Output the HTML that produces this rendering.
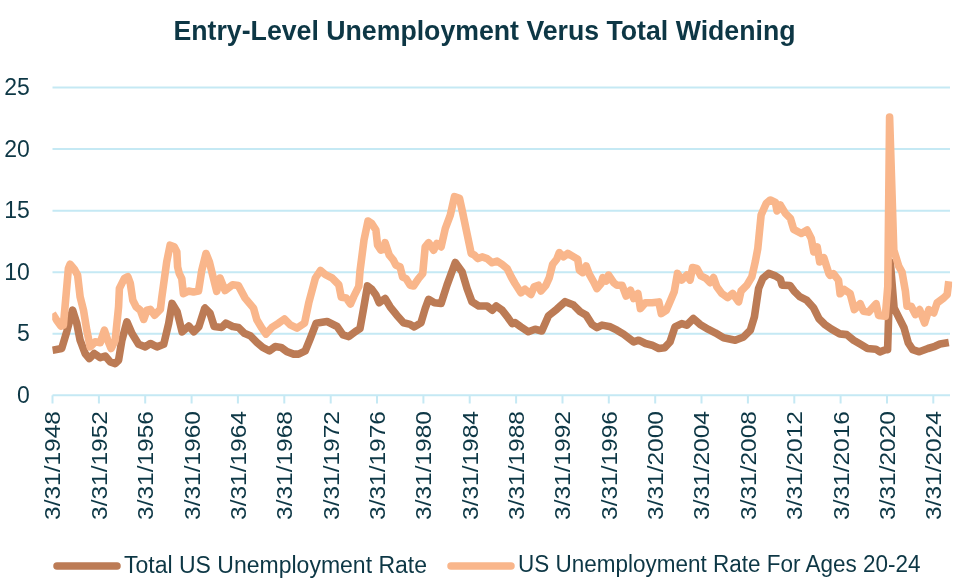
<!DOCTYPE html>
<html><head><meta charset="utf-8"><style>
html,body{margin:0;padding:0;background:#fff;width:960px;height:586px;overflow:hidden}
svg{display:block;filter:blur(0.4px)}
text{font-family:"Liberation Sans",sans-serif;fill:#0D3745}
</style></head><body>
<svg width="960" height="586" viewBox="0 0 960 586">
<defs><clipPath id="pc"><rect x="52.2" y="0" width="900" height="420"/></clipPath></defs><rect width="960" height="586" fill="#fff"/>
<text x="484.5" y="39.8" text-anchor="middle" font-weight="bold" font-size="28" textLength="622" lengthAdjust="spacingAndGlyphs">Entry-Level Unemployment Verus Total Widening</text>
<g stroke="#C5E9F4" stroke-width="2" fill="none"><line x1="52.5" y1="333.8" x2="950" y2="333.8" /><line x1="52.5" y1="272.2" x2="950" y2="272.2" /><line x1="52.5" y1="210.7" x2="950" y2="210.7" /><line x1="52.5" y1="149.1" x2="950" y2="149.1" /><line x1="52.5" y1="87.6" x2="950" y2="87.6" /><line x1="52.5" y1="395.3" x2="52.5" y2="403.5" /><line x1="98.9" y1="395.3" x2="98.9" y2="403.5" /><line x1="145.2" y1="395.3" x2="145.2" y2="403.5" /><line x1="191.6" y1="395.3" x2="191.6" y2="403.5" /><line x1="237.9" y1="395.3" x2="237.9" y2="403.5" /><line x1="284.3" y1="395.3" x2="284.3" y2="403.5" /><line x1="330.7" y1="395.3" x2="330.7" y2="403.5" /><line x1="377.0" y1="395.3" x2="377.0" y2="403.5" /><line x1="423.4" y1="395.3" x2="423.4" y2="403.5" /><line x1="469.7" y1="395.3" x2="469.7" y2="403.5" /><line x1="516.1" y1="395.3" x2="516.1" y2="403.5" /><line x1="562.5" y1="395.3" x2="562.5" y2="403.5" /><line x1="608.8" y1="395.3" x2="608.8" y2="403.5" /><line x1="655.2" y1="395.3" x2="655.2" y2="403.5" /><line x1="701.5" y1="395.3" x2="701.5" y2="403.5" /><line x1="747.9" y1="395.3" x2="747.9" y2="403.5" /><line x1="794.3" y1="395.3" x2="794.3" y2="403.5" /><line x1="840.6" y1="395.3" x2="840.6" y2="403.5" /><line x1="887.0" y1="395.3" x2="887.0" y2="403.5" /><line x1="933.3" y1="395.3" x2="933.3" y2="403.5" /><line x1="52.5" y1="395.3" x2="950" y2="395.3"/></g>
<g font-size="23"><text x="29.8" y="402.9" text-anchor="end">0</text><text x="29.8" y="341.4" text-anchor="end">5</text><text x="29.8" y="279.8" text-anchor="end">10</text><text x="29.8" y="218.2" text-anchor="end">15</text><text x="29.8" y="156.7" text-anchor="end">20</text><text x="29.8" y="95.2" text-anchor="end">25</text></g>
<g font-size="22"><text transform="translate(60.4,520) rotate(-90)" textLength="109" lengthAdjust="spacingAndGlyphs">3/31/1948</text><text transform="translate(106.8,520) rotate(-90)" textLength="109" lengthAdjust="spacingAndGlyphs">3/31/1952</text><text transform="translate(153.1,520) rotate(-90)" textLength="109" lengthAdjust="spacingAndGlyphs">3/31/1956</text><text transform="translate(199.5,520) rotate(-90)" textLength="109" lengthAdjust="spacingAndGlyphs">3/31/1960</text><text transform="translate(245.8,520) rotate(-90)" textLength="109" lengthAdjust="spacingAndGlyphs">3/31/1964</text><text transform="translate(292.2,520) rotate(-90)" textLength="109" lengthAdjust="spacingAndGlyphs">3/31/1968</text><text transform="translate(338.6,520) rotate(-90)" textLength="109" lengthAdjust="spacingAndGlyphs">3/31/1972</text><text transform="translate(384.9,520) rotate(-90)" textLength="109" lengthAdjust="spacingAndGlyphs">3/31/1976</text><text transform="translate(431.3,520) rotate(-90)" textLength="109" lengthAdjust="spacingAndGlyphs">3/31/1980</text><text transform="translate(477.6,520) rotate(-90)" textLength="109" lengthAdjust="spacingAndGlyphs">3/31/1984</text><text transform="translate(524.0,520) rotate(-90)" textLength="109" lengthAdjust="spacingAndGlyphs">3/31/1988</text><text transform="translate(570.4,520) rotate(-90)" textLength="109" lengthAdjust="spacingAndGlyphs">3/31/1992</text><text transform="translate(616.7,520) rotate(-90)" textLength="109" lengthAdjust="spacingAndGlyphs">3/31/1996</text><text transform="translate(663.1,520) rotate(-90)" textLength="109" lengthAdjust="spacingAndGlyphs">3/31/2000</text><text transform="translate(709.4,520) rotate(-90)" textLength="109" lengthAdjust="spacingAndGlyphs">3/31/2004</text><text transform="translate(755.8,520) rotate(-90)" textLength="109" lengthAdjust="spacingAndGlyphs">3/31/2008</text><text transform="translate(802.2,520) rotate(-90)" textLength="109" lengthAdjust="spacingAndGlyphs">3/31/2012</text><text transform="translate(848.5,520) rotate(-90)" textLength="109" lengthAdjust="spacingAndGlyphs">3/31/2016</text><text transform="translate(894.9,520) rotate(-90)" textLength="109" lengthAdjust="spacingAndGlyphs">3/31/2020</text><text transform="translate(941.2,520) rotate(-90)" textLength="109" lengthAdjust="spacingAndGlyphs">3/31/2024</text></g>
<g fill="none" stroke-linejoin="round" stroke-linecap="butt" stroke-width="7.6" clip-path="url(#pc)">
<path d="M52.5,350.2 L61.7,348.5 L66.7,331.8 L72.6,310.1 L76.8,323.4 L80.1,340.2 L85.1,353.5 L89.3,358.6 L94.3,353.5 L100.2,357.7 L105.2,356.0 L110.2,361.9 L115.2,363.6 L118.6,360.2 L121.9,340.2 L126.9,321.8 L132.0,333.5 L138.6,344.3 L145.3,346.9 L150.4,343.5 L157.0,346.9 L163.7,344.3 L168.7,323.4 L172.1,303.4 L177.1,311.7 L182.1,331.8 L188.8,326.0 L193.8,331.8 L198.8,326.8 L204.7,308.4 L205.0,308.1 L210.0,313.2 L214.2,326.5 L221.7,327.4 L225.9,323.2 L232.6,326.5 L238.4,327.4 L244.3,333.2 L250.2,335.7 L256.8,342.4 L262.7,347.4 L269.4,350.8 L275.2,346.6 L281.1,347.4 L286.9,351.6 L293.6,354.1 L298.6,354.1 L305.3,350.8 L310.4,338.2 L316.2,323.2 L322.1,322.3 L327.1,321.5 L337.1,326.5 L343.0,334.9 L348.8,336.6 L355.5,331.5 L360.0,328.6 L363.3,310.2 L367.5,285.9 L371.7,289.3 L375.9,295.1 L379.2,302.7 L385.1,298.5 L390.1,306.8 L396.8,315.2 L403.5,322.7 L410.2,324.4 L414.3,326.9 L421.0,322.7 L425.2,308.5 L428.6,299.3 L434.4,302.7 L441.1,303.5 L447.0,285.1 L455.3,262.5 L462.0,271.7 L467.0,288.4 L472.0,301.8 L478.7,306.0 L487.1,306.0 L492.1,310.2 L496.3,306.0 L502.1,310.2 L508.0,317.7 L512.2,323.6 L515.0,322.6 L520.9,326.8 L528.4,331.8 L535.1,329.3 L541.8,331.0 L548.4,315.9 L556.8,309.2 L565.2,301.7 L573.5,305.1 L580.2,311.8 L586.1,315.1 L591.9,324.3 L596.9,327.6 L602.0,325.1 L610.3,326.8 L617.0,330.2 L623.7,334.3 L633.7,341.9 L638.7,340.2 L645.4,343.5 L652.1,345.2 L658.8,348.5 L664.7,347.7 L670.0,342.0 L675.0,326.9 L681.7,323.6 L686.7,325.2 L693.4,318.5 L700.1,324.4 L708.5,329.4 L715.2,332.8 L723.5,337.8 L735.2,340.3 L743.6,336.9 L750.3,330.3 L754.4,316.9 L758.6,288.4 L762.8,278.4 L768.7,273.4 L775.4,275.9 L780.4,279.2 L782.0,285.1 L790.0,285.5 L794.1,291.1 L799.7,296.6 L806.6,300.1 L813.5,307.7 L819.0,318.7 L824.6,324.3 L831.5,329.1 L839.8,333.9 L846.7,334.6 L853.6,340.2 L860.5,344.3 L867.5,348.5 L875.8,349.2 L879.9,351.9 L885.4,349.8 L887.6,349.6 L890.3,262.0 L894.1,308.0 L899.6,319.0 L904.0,327.7 L908.3,343.0 L912.7,349.6 L919.3,351.8 L928.0,348.5 L935.0,346.3 L940.0,344.0 L948.8,342.5" stroke="#BC7B55"/>
<path d="M52.5,313.5 L56.7,320.2 L60.9,326.1 L63.4,325.2 L65.9,296.8 L68.4,268.4 L70.1,264.2 L74.3,269.2 L77.6,275.1 L80.1,296.8 L83.5,310.2 L86.8,330.3 L90.2,346.9 L95.2,341.8 L100.2,342.7 L104.4,330.1 L107.7,340.2 L111.1,348.5 L115.2,340.2 L118.6,306.7 L119.4,288.4 L124.4,278.4 L127.8,276.7 L130.3,283.4 L132.8,300.2 L136.1,306.8 L140.3,310.2 L143.7,319.4 L147.0,310.2 L150.4,309.3 L154.5,315.2 L160.4,309.3 L161.7,298.0 L166.7,261.9 L170.1,245.2 L174.2,246.8 L176.8,251.8 L177.6,266.9 L179.3,273.6 L181.8,278.6 L183.4,293.6 L188.5,291.1 L193.5,292.0 L198.5,291.1 L201.8,270.2 L206.0,253.5 L209.4,261.9 L212.7,275.3 L216.7,291.4 L220.0,278.0 L225.1,290.6 L232.6,284.7 L238.4,285.6 L245.1,298.1 L249.3,303.1 L253.5,308.1 L256.8,319.8 L261.9,328.2 L266.0,334.1 L271.9,327.4 L278.6,323.2 L284.4,319.0 L290.3,324.9 L297.0,328.2 L304.5,323.2 L308.7,303.1 L315.4,278.0 L320.4,270.5 L325.4,274.7 L332.1,278.0 L338.8,284.7 L341.3,297.3 L346.3,298.1 L350.5,304.0 L353.8,296.4 L358.8,286.4 L360.0,271.0 L364.0,240.0 L368.0,221.0 L371.7,223.4 L375.9,230.1 L377.6,245.2 L380.9,250.2 L383.4,249.4 L385.1,242.7 L389.3,255.2 L393.4,260.2 L396.0,265.3 L400.1,266.9 L402.6,277.0 L406.0,278.6 L410.2,285.3 L413.5,286.0 L418.5,278.6 L422.7,273.6 L425.2,246.9 L428.6,242.7 L433.6,250.2 L436.9,243.5 L441.1,246.9 L445.3,228.5 L450.3,215.1 L454.5,196.7 L459.5,198.4 L462.8,213.4 L467.0,233.5 L471.2,253.5 L474.5,255.2 L477.9,258.6 L482.1,256.9 L487.1,258.6 L492.1,262.7 L497.1,261.1 L502.1,264.4 L507.2,268.6 L511.3,277.0 L515.0,283.5 L520.9,292.7 L525.0,289.3 L530.9,294.4 L534.2,286.8 L538.4,285.2 L540.9,291.0 L545.9,285.2 L549.3,277.6 L552.6,264.3 L556.8,259.2 L559.3,252.6 L563.5,256.7 L567.7,253.4 L573.5,256.7 L577.7,259.2 L579.4,270.1 L582.7,272.6 L586.1,265.9 L589.4,274.3 L593.6,281.8 L596.9,288.5 L601.1,283.5 L602.8,277.6 L606.1,281.0 L608.6,275.1 L613.7,282.7 L617.0,285.2 L622.0,285.2 L626.2,296.0 L630.4,290.2 L633.7,298.5 L637.9,293.5 L640.4,308.6 L645.4,302.7 L652.1,302.7 L658.8,301.9 L661.3,313.6 L666.3,310.3 L670.0,301.8 L674.2,291.8 L677.5,273.4 L681.7,280.1 L686.7,275.1 L690.1,280.1 L692.6,267.5 L696.8,268.4 L700.9,275.9 L706.0,278.4 L710.1,282.6 L713.5,277.6 L716.8,286.8 L721.8,293.5 L727.7,297.6 L732.7,293.5 L738.6,301.8 L741.1,291.0 L746.9,285.1 L751.9,276.7 L755.3,261.7 L757.8,248.5 L761.1,215.1 L766.2,203.4 L770.3,200.0 L775.4,202.5 L777.0,210.9 L780.4,205.1 L785.4,213.4 L790.4,218.4 L793.7,229.3 L801.3,233.5 L807.1,230.1 L811.3,238.5 L813.8,251.9 L817.2,246.9 L819.7,261.9 L823.8,257.7 L828.9,273.6 L830.0,275.3 L833.4,273.6 L838.5,280.3 L840.1,293.7 L844.3,289.5 L850.2,293.7 L854.3,309.6 L860.2,303.7 L863.5,311.3 L868.6,312.1 L876.1,303.7 L878.6,315.4 L885.3,316.3 L887.8,286.2 L889.6,117.0 L893.8,250.0 L898.7,266.1 L902.0,272.0 L905.4,291.2 L907.0,306.2 L911.2,306.2 L915.4,314.6 L919.6,309.6 L924.6,323.0 L928.8,309.6 L933.8,312.9 L937.1,302.9 L943.8,297.9 L947.2,294.5 L948.8,281.2" stroke="#F9B68B"/>
</g>
<g stroke-linecap="round" stroke-width="7.5">
<line x1="57" y1="566" x2="117" y2="566" stroke="#BC7B55"/>
<line x1="451" y1="566" x2="511" y2="566" stroke="#F9B68B"/>
</g>
<g font-size="23">
<text x="124" y="572.6" textLength="303" lengthAdjust="spacingAndGlyphs">Total US Unemployment Rate</text>
<text x="518" y="572.4" textLength="402.5" lengthAdjust="spacingAndGlyphs">US Unemployment Rate For Ages 20-24</text>
</g>
</svg>
</body></html>
